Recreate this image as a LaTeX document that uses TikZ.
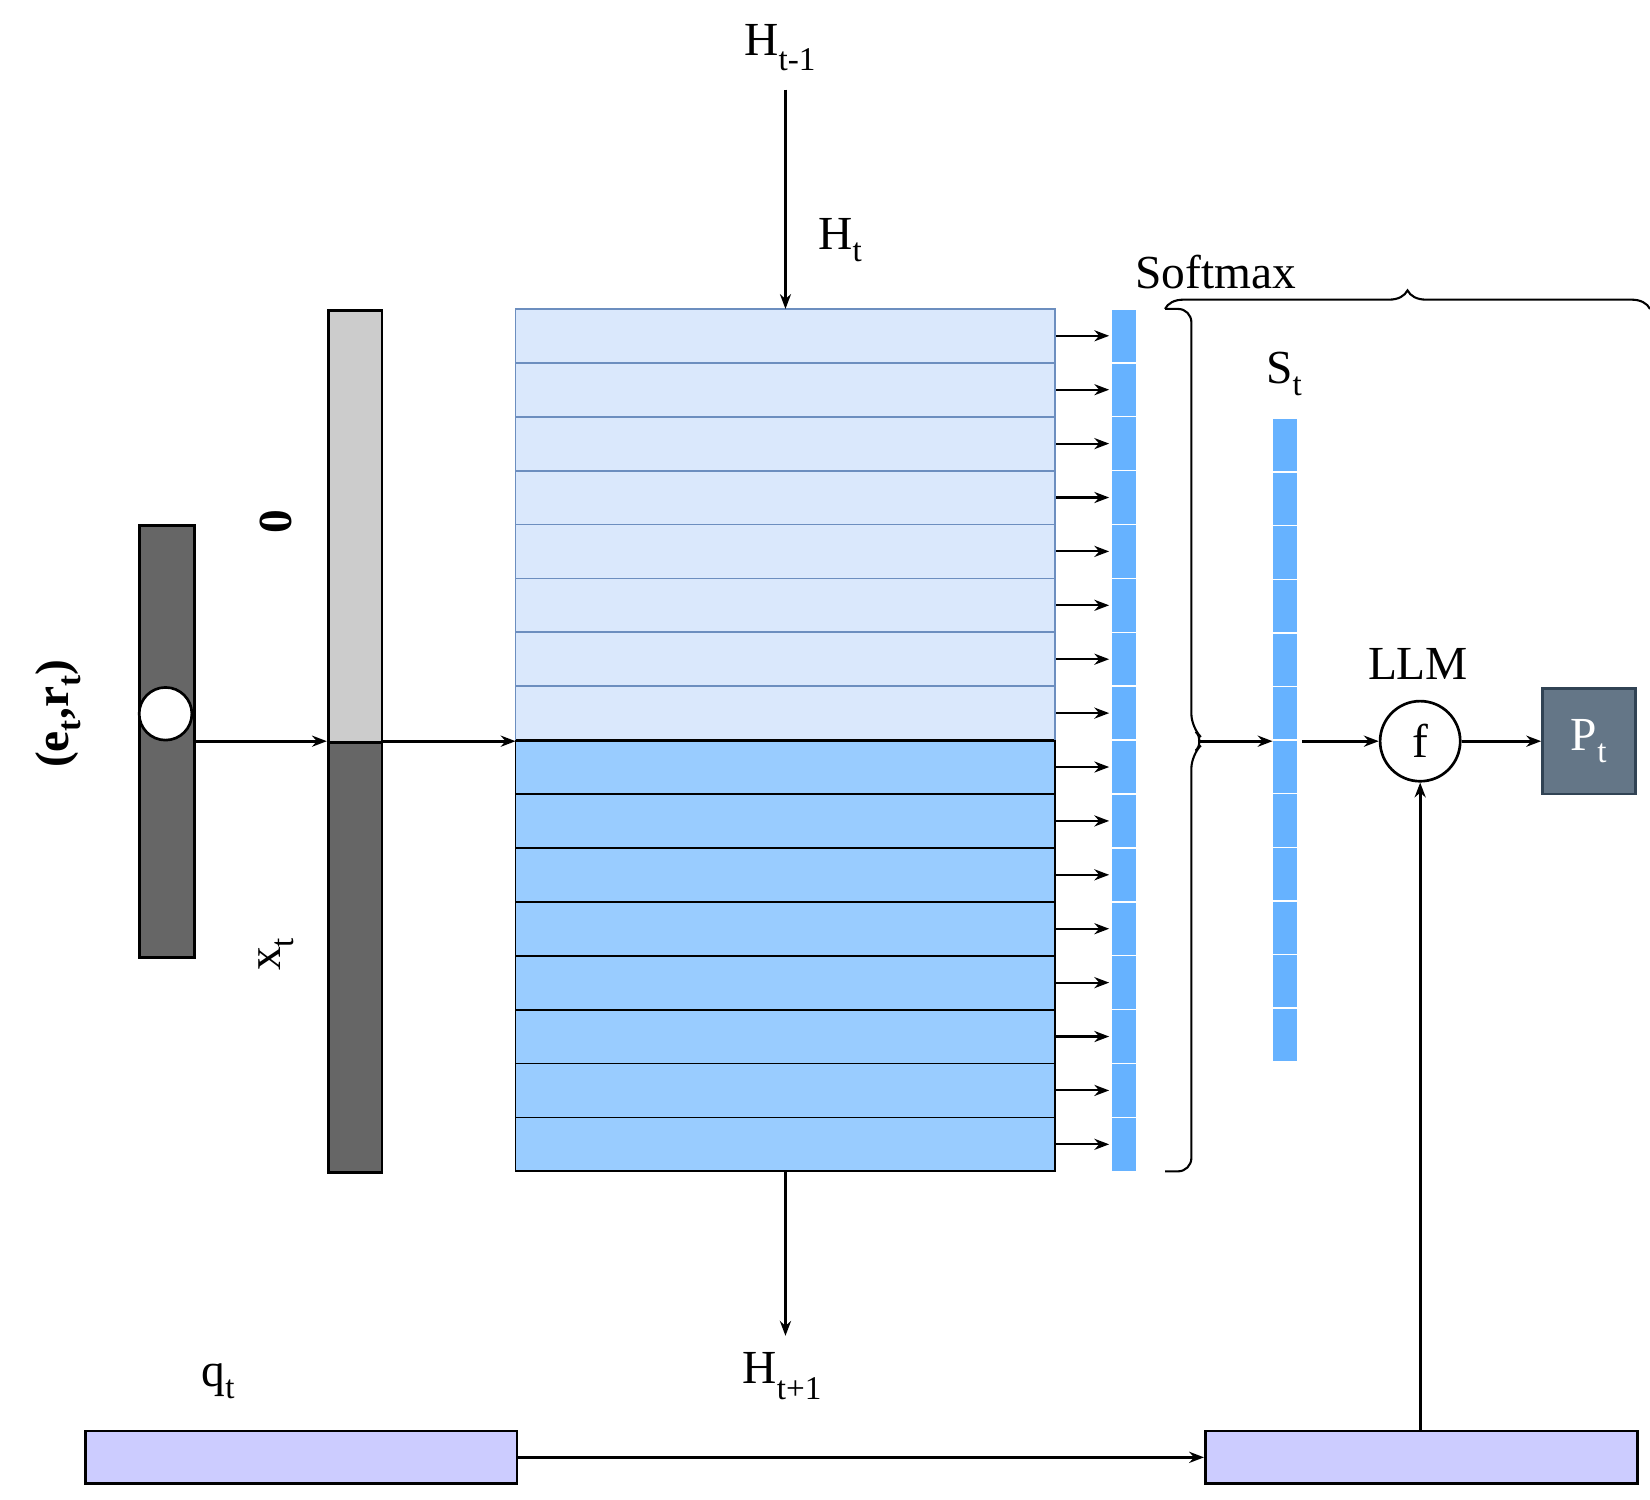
\documentclass[tikz,border=0pt]{standalone}
\usepackage{fontspec}
\setmainfont{Liberation Serif}
\usetikzlibrary{arrows.meta,decorations.pathreplacing}
\definecolor{lb}{HTML}{DAE8FC}\definecolor{lbs}{HTML}{6C8EBF}
\definecolor{mb}{HTML}{99CCFF}\definecolor{cb}{HTML}{66B2FF}
\definecolor{dg}{HTML}{666666}\definecolor{lg}{HTML}{CCCCCC}
\definecolor{pu}{HTML}{CCCCFF}\definecolor{pf}{HTML}{647687}\definecolor{ps}{HTML}{314354}
\begin{document}
\begin{tikzpicture}[x=0.5mm,y=-0.5mm,line width=3.6pt,
 arr/.style={-{Stealth[length=20pt,width=15pt]}},
 lab/.style={font=\fontsize{64}{70}\selectfont,inner sep=0pt},
 cell/.style={fill=cb,draw=white,line width=2pt}]
\useasboundingbox (0,0) rectangle (1565,1422);
% input bars
\node[draw,fill=dg,minimum width=26mm,minimum height=205mm,anchor=north west,inner sep=0pt] (b1) at (131,497) {};
\node[draw,fill=white,circle,minimum size=25mm,inner sep=0pt] (c1) at (157,677) {};
\node[draw,fill=lg,minimum width=25.5mm,minimum height=205mm,anchor=north west,inner sep=0pt] (b2t) at (310,293) {};
\node[draw,fill=dg,minimum width=25.5mm,minimum height=204mm,anchor=north west,inner sep=0pt] (b2b) at (310,703) {};
\node[lab,rotate=90] at (55,677) {\textbf{(e\textsubscript{t},r\textsubscript{t})}};
\node[lab,rotate=90] at (262,495) {\textbf{0}};
\node[lab,rotate=90] at (262,905) {x\textsubscript{t}};
\coordinate (a1) at (183,703); \coordinate (a2) at (310,703);
\draw[arr] (a1) -- (a2);
\coordinate (a3) at (361,703); \coordinate (g) at (489,703);
\draw[arr] (a3) -- (g);
% grid
\foreach \i in {0,...,15}{
 \pgfmathsetmacro\yy{293+\i*51.125}
 \ifnum\i<8
  \draw[fill=lb,draw=lbs,line width=2.5pt] (489,\yy) rectangle (1001,\yy+51.125);
 \else
  \draw[fill=mb,line width=2.5pt] (489,\yy) rectangle (1001,\yy+51.125);
 \fi
 \draw[cell] (1054,\yy) rectangle (1078,\yy+51.125);
 \draw[arr,line width=2.8pt] (1001,\yy+25.5) -- (1052,\yy+25.5);
}
\draw[draw=lbs,line width=2.5pt] (489,293) rectangle (1001,703);
\draw[line width=2.5pt] (489,703) rectangle (1001,1111);
% S_t
\foreach \i in {0,...,11}{
 \pgfmathsetmacro\yy{397+\i*50.83}
 \draw[cell] (1207,\yy) rectangle (1231,\yy+50.83);
}
\draw[decorate,decoration={brace,amplitude=25pt},line width=2.8pt] (1105,293) -- (1130,293) -- (1130,703) -- (1105,703) (1105,293) -- (1105,293);
\draw[line width=2.8pt,rounded corners=18pt] (1105,293) -- (1130,293) -- (1130,690) -- (1143,703) -- (1130,716) -- (1130,1111) -- (1105,1111);
\coordinate (br) at (1136,703); \coordinate (s1) at (1207,703);
\draw[arr] (br) -- (s1);
\node[draw,circle,minimum size=38mm,inner sep=0pt,lab] (f) at (1347,703) {f};
\coordinate (s2) at (1235,703);
\draw[arr] (s2) -- (f);
\node[draw=ps,fill=pf,text=white,minimum width=44mm,minimum height=50mm,lab] (p) at (1507,703) {P\textsubscript{t}};
\draw[arr] (f) -- (p);
\node[lab] at (1345,630) {LLM};
\node[lab] at (1153,258) {Softmax};
\node[lab] at (1218,355) {S\textsubscript{t}};
% H
\node[lab] (h1) at (740,45) {H\textsubscript{t-1}};
\node[lab] at (797,228) {H\textsubscript{t}};
\coordinate (ht) at (745,85); \coordinate (gt) at (745,293);
\draw[arr,line width=2.8pt] (ht) -- (gt);
\coordinate (gb) at (745,1111); \coordinate (hb) at (745,1267);
\draw[arr] (gb) -- (hb);
\node[lab] at (742,1305) {H\textsubscript{t+1}};
% q
\node[lab] at (207,1310) {q\textsubscript{t}};
\node[draw,fill=pu,minimum width=204.5mm,minimum height=25mm,anchor=north west,inner sep=0pt] (q1) at (80,1356) {};
\node[draw,fill=pu,minimum width=205mm,minimum height=25mm,anchor=north west,inner sep=0pt] (q2) at (1142,1356) {};
\draw[arr] (q1.east) -- (q2.west);
\draw[arr] (q2.north -| f) -- (f);
\end{tikzpicture}
\end{document}
